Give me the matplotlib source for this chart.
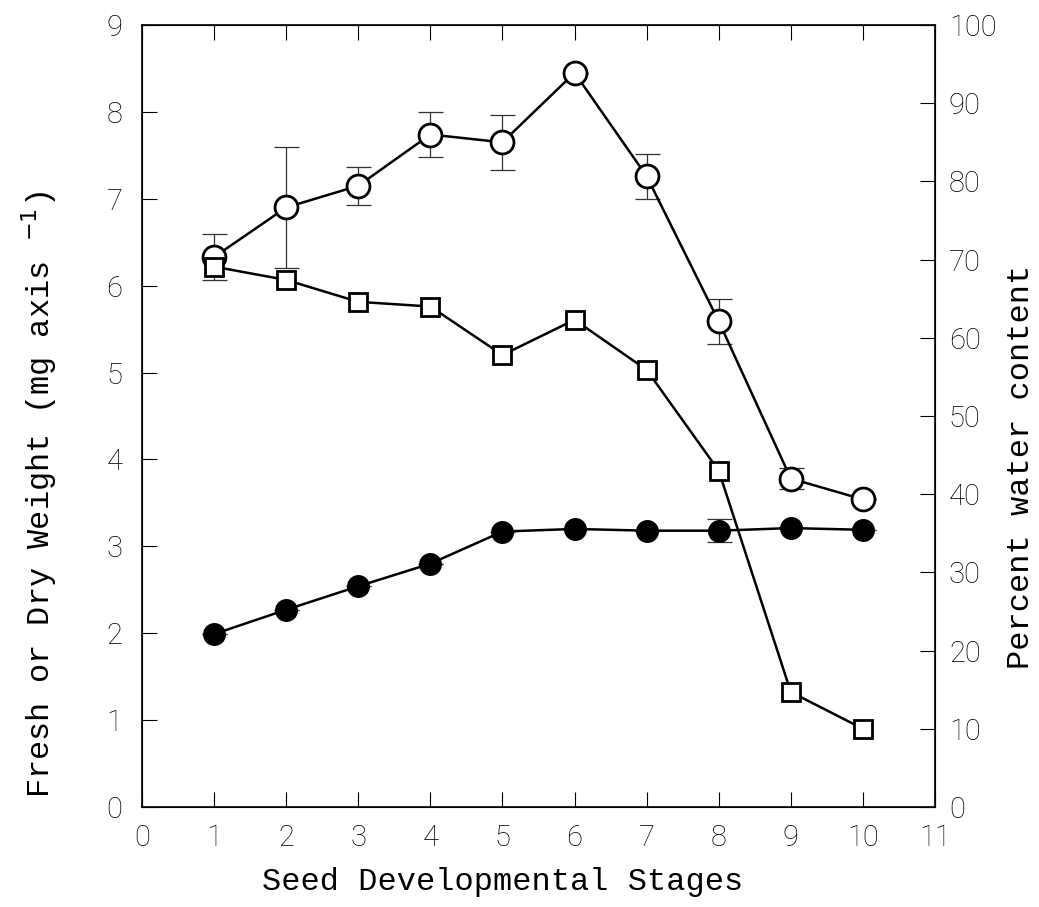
import matplotlib
matplotlib.use('Agg')
import matplotlib.pyplot as plt

# стадии развития семян
stages = [1, 2, 3, 4, 5, 6, 7, 8, 9, 10]

# сырая масса (мг на ось) и ошибки
fresh = [6.33, 6.90, 7.15, 7.74, 7.65, 8.45, 7.26, 5.59, 3.78, 3.54]
fresh_err = [0.27, 0.70, 0.22, 0.26, 0.32, 0.0, 0.26, 0.26, 0.12, 0.0]

# сухая масса
dry = [1.99, 2.27, 2.54, 2.80, 3.17, 3.20, 3.18, 3.18, 3.21, 3.19]
dry_err = [0.0, 0.0, 0.0, 0.0, 0.0, 0.0, 0.0, 0.13, 0.0, 0.0]

# влажность, %
water = [69.1, 67.4, 64.6, 64.0, 57.8, 62.3, 55.9, 43.0, 14.7, 10.0]

tick_font = dict(family='Roboto', weight='light', size=21)
label_font = dict(family='Liberation Mono', size=23)

fig = plt.figure(figsize=(10.39, 9.07), dpi=100)
ax = fig.add_axes([0.1367, 0.1103, 0.7632, 0.8621])

ax.errorbar(stages, fresh, yerr=fresh_err, fmt='none', ecolor='#333333',
            elinewidth=0.9, capsize=9, capthick=0.9, zorder=1)
ax.errorbar(stages, dry, yerr=dry_err, fmt='none', ecolor='#333333',
            elinewidth=0.9, capsize=9, capthick=0.9, zorder=1)
ax.plot(stages, fresh, color='black', lw=1.8, marker='o', ms=16.5,
        mfc='white', mec='black', mew=2.0, zorder=3)
ax.plot(stages, dry, color='black', lw=1.8, marker='o', ms=15.5,
        mfc='black', mec='black', zorder=3)

ax.set_xlim(0, 11)
ax.set_ylim(0, 9)
ax.set_xticks(range(0, 12))
ax.set_yticks(range(0, 10))
ax.tick_params(direction='in', length=11, width=0.8, top=True, right=False)
ax.tick_params(axis='x', pad=12)
ax.tick_params(axis='y', pad=14)
for lab in ax.get_xticklabels() + ax.get_yticklabels():
    lab.set_fontproperties(tick_font)
for s in ax.spines.values():
    s.set_linewidth(1.2)

ax.set_xlabel('Seed Developmental Stages', **label_font)
ax.xaxis.set_label_coords(0.455, -0.077)
ax.set_ylabel('Fresh or Dry Weight (mg axis $^{-1}$)', **label_font)
ax.yaxis.set_label_coords(-0.105, 0.40)

ax2 = ax.twinx()
ax2.plot(stages, water, color='black', lw=1.8, marker='s', ms=13,
         mfc='white', mec='black', mew=2.0, zorder=3)
ax2.set_ylim(0, 100)
ax2.set_yticks(range(0, 101, 10))
ax2.tick_params(direction='in', length=11, width=0.8, pad=10)
for lab in ax2.get_yticklabels():
    lab.set_fontproperties(tick_font)
ax2.set_ylabel('Percent water content', **label_font)
ax2.yaxis.set_label_coords(1.090, 0.435)

fig.savefig('out.png', dpi=100)
